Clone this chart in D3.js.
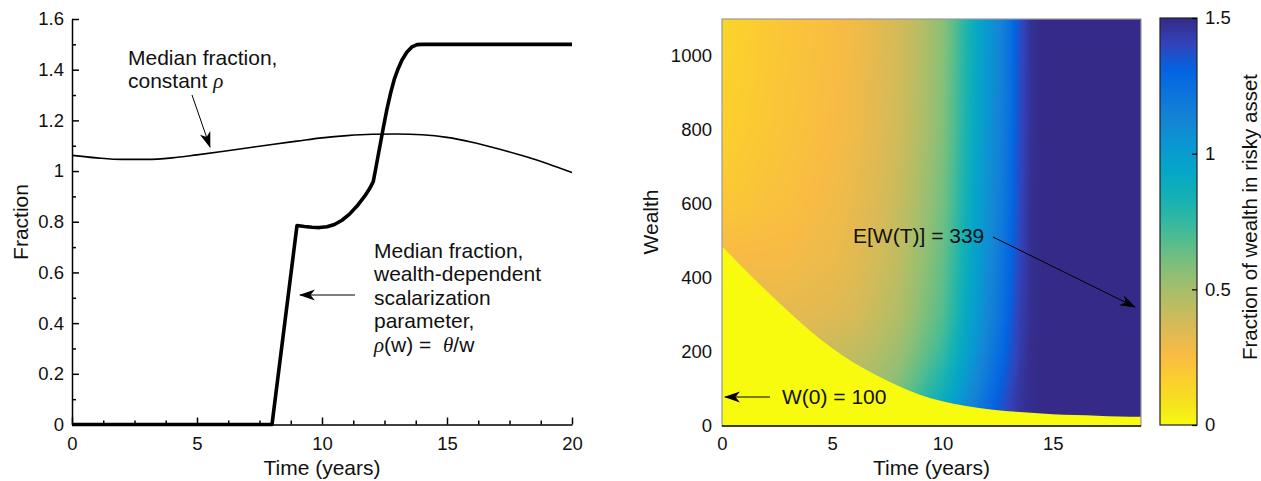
<!DOCTYPE html>
<html><head><meta charset="utf-8">
<script src="https://cdn.jsdelivr.net/npm/d3@7"></script>
<style>
body{margin:0;background:#fff}
text{font-family:"Liberation Sans",Arial,Helvetica,sans-serif;fill:#111}
.greek{font-family:"Liberation Serif","Times New Roman",serif;font-style:italic}
</style>
</head><body>
<svg id="chart" width="1261" height="481"></svg>
<script>
// ---------- Left panel data ----------
const constRhoTimes = [0,1,2,3,4,5,6,7,8,9,10,11,12,13,14,15,16,17,18,19,20];
const constRhoFraction = [1.062,1.052,1.046,1.046,1.052,1.064,1.077,1.091,1.105,1.118,1.131,1.140,1.145,1.146,1.143,1.133,1.114,1.089,1.061,1.030,0.994];
const wealthDepTimes = [0,8.0,9.0,9.3,9.6,9.9,10.2,10.5,10.8,11.1,11.4,11.7,11.9,12.05,12.15,12.3,12.45,12.6,12.75,12.9,13.05,13.2,13.4,13.6,13.8,14.0,20];
const wealthDepFraction = [0,0,0.785,0.781,0.778,0.777,0.780,0.789,0.806,0.830,0.862,0.900,0.930,0.958,1.01,1.09,1.17,1.245,1.31,1.365,1.405,1.438,1.47,1.49,1.499,1.5,1.5];
const leftXTicks = [0,5,10,15,20];
const leftXMinor = [1.25,2.5,3.75,6.25,7.5,8.75,11.25,12.5,13.75,16.25,17.5,18.75];
const leftYTicks = [0,0.2,0.4,0.6,0.8,1,1.2,1.4,1.6];
const leftYTickLabels = ["0","0.2","0.4","0.6","0.8","1","1.2","1.4","1.6"];
const leftYMinor = [0.1,0.3,0.5,0.7,0.9,1.1,1.3,1.5];

// ---------- Right panel data ----------
const heatTimes = [0,1,2,3,4,5,6,7,8,9,10,10.5,11,11.5,12,12.5,13,13.5,14,14.5,19];
const heatWealth = [0,60,120,200,300,450,600,800,1100];
const heatFraction = [
  [0.44,0.43,0.42,0.42,0.43,0.45,0.49,0.55,0.62,0.76,0.89,0.98,1.07,1.16,1.25,1.33,1.40,1.46,1.49,1.50,1.50],
  [0.44,0.43,0.42,0.42,0.43,0.45,0.49,0.55,0.62,0.76,0.89,0.98,1.07,1.16,1.25,1.33,1.40,1.46,1.49,1.50,1.50],
  [0.41,0.41,0.40,0.40,0.41,0.43,0.46,0.51,0.57,0.69,0.82,0.91,1.01,1.11,1.20,1.29,1.37,1.45,1.49,1.50,1.50],
  [0.37,0.37,0.36,0.36,0.37,0.40,0.42,0.46,0.52,0.62,0.74,0.84,0.95,1.05,1.15,1.24,1.34,1.43,1.49,1.50,1.50],
  [0.33,0.33,0.32,0.32,0.33,0.34,0.36,0.41,0.47,0.57,0.68,0.78,0.90,1.00,1.10,1.20,1.31,1.42,1.48,1.50,1.50],
  [0.27,0.27,0.27,0.27,0.29,0.30,0.33,0.37,0.43,0.53,0.64,0.74,0.86,0.97,1.07,1.17,1.28,1.40,1.48,1.50,1.50],
  [0.20,0.21,0.23,0.24,0.26,0.28,0.31,0.35,0.41,0.50,0.61,0.71,0.83,0.95,1.05,1.14,1.25,1.39,1.48,1.50,1.50],
  [0.16,0.18,0.20,0.22,0.24,0.26,0.29,0.33,0.38,0.47,0.58,0.68,0.80,0.92,1.03,1.12,1.23,1.38,1.47,1.50,1.50],
  [0.14,0.16,0.19,0.21,0.23,0.25,0.28,0.32,0.37,0.45,0.56,0.66,0.78,0.90,1.01,1.10,1.22,1.37,1.47,1.50,1.50]
];
const boundaryTimes = [0,1,2,3,4,5,6,7,8,9,10,11,12,13,14,15,16,17,18,19];
const boundaryWealth = [486,425,366,310,257,210,170,137,108,84,67,55,46,40,36,32,30,28,26,25];
const rightXTicks = [0,5,10,15];
const rightYTicks = [0,200,400,600,800,1000];
const colorbarTicks = [0,0.5,1,1.5];
const colorbarTickLabels = ["0","0.5","1","1.5"];

// parula colormap (subset), index 0 = dark, 63 = yellow
const parulaIdx = [0,4,8,12,16,20,24,28,32,36,40,44,48,52,56,60,63];
const parulaRGB = [
 [0.2081,0.1663,0.5292],[0.1959,0.2645,0.7279],[0.0117,0.3875,0.8820],[0.0498,0.4586,0.8641],
 [0.0793,0.5200,0.8312],[0.0343,0.5966,0.8199],[0.0228,0.6535,0.7768],[0.0843,0.6928,0.7062],
 [0.2178,0.7250,0.6193],[0.3953,0.7459,0.5244],[0.5709,0.7485,0.4494],[0.7184,0.7411,0.3905],
 [0.8507,0.7299,0.3360],[0.9739,0.7314,0.2666],[0.9880,0.8066,0.1794],[0.9589,0.8949,0.1132],
 [0.9763,0.9831,0.0538]];
const cmap = d3.scaleLinear()
  .domain(parulaIdx.map(i => 1.5*(63-i)/63))
  .range(parulaRGB.map(c => d3.rgb(c[0]*255,c[1]*255,c[2]*255).formatHex()))
  .interpolate(d3.interpolateRgb).clamp(true);

const svg = d3.select("#chart");
const defs = svg.append("defs");
defs.append("marker").attr("id","arr").attr("viewBox","0 0 16 12")
  .attr("refX",15).attr("refY",6).attr("markerWidth",16).attr("markerHeight",12)
  .attr("markerUnits","userSpaceOnUse").attr("orient","auto")
  .append("path").attr("d","M0,0.5 L16,6 L0,11.5 L4.5,6 Z").attr("fill","#000");

// ================= LEFT PANEL =================
const xL = d3.scaleLinear().domain([0,20]).range([72,572]);
const yL = d3.scaleLinear().domain([0,1.6]).range([424.5,19]);
const gL = svg.append("g");

function styleAxis(g){
  g.selectAll("path,line").attr("stroke","#000").attr("stroke-width",1.5);
  g.selectAll("text").attr("font-size","18.5px").attr("fill","#111")
   .attr("font-family","'Liberation Sans',Arial,sans-serif");
}
const axLx = gL.append("g").attr("transform","translate(0,424.5)")
  .call(d3.axisBottom(xL).tickValues(leftXTicks).tickFormat(d3.format("d")).tickSizeInner(-7).tickSizeOuter(0).tickPadding(12));
styleAxis(axLx);
const axLxm = gL.append("g").attr("transform","translate(0,424.5)")
  .call(d3.axisBottom(xL).tickValues(leftXMinor).tickFormat("").tickSize(-4));
axLxm.select(".domain").remove(); styleAxis(axLxm);
const axLy = gL.append("g").attr("transform","translate(72,0)")
  .call(d3.axisLeft(yL).tickValues(leftYTicks).tickFormat((d,i)=>leftYTickLabels[i]).tickSizeInner(-7).tickSizeOuter(0).tickPadding(8));
styleAxis(axLy);
const axLym = gL.append("g").attr("transform","translate(72,0)")
  .call(d3.axisLeft(yL).tickValues(leftYMinor).tickFormat("").tickSize(-4));
axLym.select(".domain").remove(); styleAxis(axLym);

gL.append("text").attr("x",322).attr("y",475).attr("text-anchor","middle").attr("font-size","21px").text("Time (years)");
gL.append("text").attr("transform","translate(28,222) rotate(-90)").attr("text-anchor","middle").attr("font-size","21px").text("Fraction");

const lineL = d3.line().x(d=>xL(d[0])).y(d=>yL(d[1]));
gL.append("path").datum(constRhoTimes.map((t,i)=>[t,constRhoFraction[i]]))
  .attr("d", lineL.curve(d3.curveMonotoneX)).attr("fill","none").attr("stroke","#000").attr("stroke-width",1.6);
gL.append("path").datum(wealthDepTimes.map((t,i)=>[t,wealthDepFraction[i]]))
  .attr("d", d3.line().x(d=>xL(d[0])).y(d=>yL(d[1]))).attr("fill","none").attr("stroke","#000")
  .attr("stroke-width",3.6).attr("stroke-linejoin","round");

// annotations left
const t1 = gL.append("text").attr("font-size","21px");
t1.append("tspan").attr("x",128).attr("y",65).text("Median fraction,");
t1.append("tspan").attr("x",128).attr("y",88).text("constant\u00a0");
t1.append("tspan").attr("class","greek").text("ρ");
gL.append("line").attr("x1",192).attr("y1",95).attr("x2",210).attr("y2",147)
  .attr("stroke","#000").attr("stroke-width",1).attr("marker-end","url(#arr)");

const t2 = gL.append("text").attr("font-size","21px");
["Median fraction,","wealth-dependent","scalarization","parameter,"].forEach((s,i)=>{
  t2.append("tspan").attr("x",374).attr("y",257.5+23.5*i).text(s);
});
const last = gL.append("text").attr("font-size","21px").attr("x",374).attr("y",351.5);
last.append("tspan").attr("class","greek").text("ρ");
last.append("tspan").text("(w) =\u00a0\u00a0");
last.append("tspan").attr("class","greek").text("θ");
last.append("tspan").text("/w");
gL.append("line").attr("x1",355).attr("y1",295).attr("x2",300).attr("y2",295)
  .attr("stroke","#000").attr("stroke-width",1).attr("marker-end","url(#arr)");

// ================= RIGHT PANEL =================
const xR = d3.scaleLinear().domain([0,19]).range([722,1141]);
const yR = d3.scaleLinear().domain([0,1100]).range([426,19]);
const gR = svg.append("g");

const x0 = 722, y0 = 19, W = 1141-722, H = 426-19;
const colIdx = d3.scaleLinear().domain(heatTimes).range(d3.range(heatTimes.length)).clamp(true);
const rowIdx = d3.scaleLinear().domain(heatWealth).range(d3.range(heatWealth.length)).clamp(true);
const canvas = document.createElement("canvas");
canvas.width = W; canvas.height = H;
const ctx = canvas.getContext("2d");
const img = ctx.createImageData(W,H);
for (let j=0;j<H;j++){
  const wv = yR.invert(y0+j+0.5);
  const fr = rowIdx(wv); const r0 = Math.floor(fr), r1 = Math.min(r0+1, heatWealth.length-1), ry = fr-r0;
  for (let i=0;i<W;i++){
    const tv = xR.invert(x0+i+0.5);
    const fc = colIdx(tv); const c0 = Math.floor(fc), c1 = Math.min(c0+1, heatTimes.length-1), cx = fc-c0;
    const v = (heatFraction[r0][c0]*(1-cx)+heatFraction[r0][c1]*cx)*(1-ry) +
              (heatFraction[r1][c0]*(1-cx)+heatFraction[r1][c1]*cx)*ry;
    const c = d3.rgb(cmap(v));
    const k = (j*W+i)*4;
    img.data[k]=c.r; img.data[k+1]=c.g; img.data[k+2]=c.b; img.data[k+3]=255;
  }
}
ctx.putImageData(img,0,0);
gR.append("image").attr("x",x0).attr("y",y0).attr("width",W).attr("height",H)
  .attr("preserveAspectRatio","none").attr("href",canvas.toDataURL());

// zero-fraction region below boundary
gR.append("path").datum(boundaryTimes.map((t,i)=>[t,boundaryWealth[i]]))
  .attr("d", d3.area().x(d=>xR(d[0])).y0(yR(0)).y1(d=>yR(d[1])).curve(d3.curveMonotoneX))
  .attr("fill", cmap(0));

// frame
gR.append("rect").attr("x",x0).attr("y",y0).attr("width",W).attr("height",H)
  .attr("fill","none").attr("stroke","#9a9a9a").attr("stroke-width",1.2);
gR.append("line").attr("x1",x0).attr("x2",x0+W).attr("y1",426).attr("y2",426).attr("stroke","#111").attr("stroke-width",1.5);

const axRx = gR.append("g").attr("transform","translate(0,426)")
  .call(d3.axisBottom(xR).tickValues(rightXTicks).tickFormat(d3.format("d")).tickSize(0).tickPadding(11));
axRx.select(".domain").remove(); styleAxis(axRx);
const axRy = gR.append("g").attr("transform","translate(722,0)")
  .call(d3.axisLeft(yR).tickValues(rightYTicks).tickFormat(d3.format("d")).tickSize(0).tickPadding(10));
axRy.select(".domain").remove(); styleAxis(axRy);

gR.append("text").attr("x",931.5).attr("y",475).attr("text-anchor","middle").attr("font-size","21px").text("Time (years)");
gR.append("text").attr("transform","translate(658,222) rotate(-90)").attr("text-anchor","middle").attr("font-size","21px").text("Wealth");

gR.append("text").attr("x",853).attr("y",242.5).attr("font-size","21px").text("E[W(T)] = 339");
gR.append("line").attr("x1",993).attr("y1",237).attr("x2",1135).attr("y2",307)
  .attr("stroke","#000").attr("stroke-width",1).attr("marker-end","url(#arr)");
gR.append("text").attr("x",782).attr("y",404).attr("font-size","21px").text("W(0) = 100");
gR.append("line").attr("x1",770).attr("y1",397).attr("x2",725).attr("y2",397)
  .attr("stroke","#000").attr("stroke-width",1).attr("marker-end","url(#arr)");

// colorbar
const yC = d3.scaleLinear().domain([0,1.5]).range([425,18]);
const grad = defs.append("linearGradient").attr("id","cbg").attr("x1",0).attr("x2",0).attr("y1",1).attr("y2",0);
cmap.domain().slice().reverse().forEach(v=>{
  grad.append("stop").attr("offset", v/1.5).attr("stop-color", cmap(v));
});
gR.append("rect").attr("x",1160).attr("y",18).attr("width",37).attr("height",407)
  .attr("fill","url(#cbg)").attr("stroke","#222").attr("stroke-width",1.2);
const axC = gR.append("g").attr("transform","translate(1197,0)")
  .call(d3.axisRight(yC).tickValues(colorbarTicks).tickFormat((d,i)=>colorbarTickLabels[i]).tickSizeInner(-5).tickSizeOuter(0).tickPadding(8));
axC.select(".domain").remove(); styleAxis(axC);
axC.selectAll("line").attr("stroke-width",1.2);
gR.append("text").attr("transform","translate(1257,217) rotate(-90)").attr("text-anchor","middle").attr("font-size","20.5px").text("Fraction of wealth in risky asset");
</script>
</body></html>
